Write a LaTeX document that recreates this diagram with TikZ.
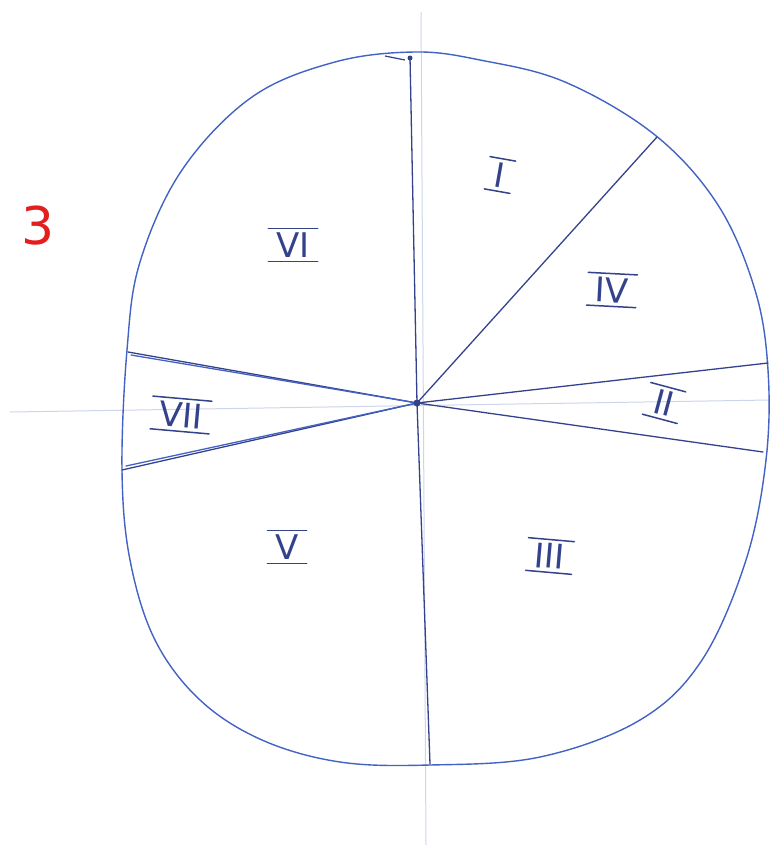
\documentclass[tikz,border=0pt]{standalone}
\usepackage{fontspec}
\setmainfont{DejaVu Sans}
\definecolor{penblue}{RGB}{66,98,196}
\definecolor{inkblue}{RGB}{52,66,140}
\definecolor{faint}{RGB}{205,213,235}
\definecolor{penred}{RGB}{226,30,30}
\tikzset{
  outline/.style={penblue, line width=1.4pt, line join=round},
  ray/.style={inkblue, line width=1.3pt, line cap=round},
  axis/.style={faint, line width=1pt},
  numeral/.style={text=inkblue, font=\fontsize{34}{36}\selectfont, inner xsep=8pt, inner ysep=4pt, outer sep=0pt},
  bar/.style={inkblue, line width=1.5pt, line cap=round}
}
\begin{document}
\begin{tikzpicture}[x=1pt,y=-1pt]
  \useasboundingbox (0,0) rectangle (771,855);

  % ---------- faint axes ----------
  \draw[axis] (10,412) -- (770,400);
  \draw[axis] (421,12) -- (426,845);

  % ---------- centre and boundary ----------
  \coordinate (c) at (417,403);
  \draw[outline] plot[smooth cycle, tension=0.6] coordinates {
    (415,52) (480,60) (565,82) (655,135) (718,205) (755,290) (768,370)
    (766,460) (746,560) (702,660) (640,720) (540,757) (430,765)
    (340,762) (262,740) (200,700) (155,640) (130,560) (122,470)
    (127,350) (140,262) (182,170) (252,97) (335,62)};
  \draw[inkblue, line width=1.2pt] (385,56) -- (405,60);
  \fill[inkblue] (410,58) circle (2.5pt);

  % ---------- rays ----------
  \coordinate (top) at (410,57);
  \coordinate (bot) at (430,764);
  \coordinate (ne) at (657,137);
  \coordinate (eu) at (768,363);
  \coordinate (el) at (763,452);
  \coordinate (wu) at (128,352);
  \coordinate (wl) at (122,470);
  \draw[ray] (c) -- (top);
  \draw[ray] (c) -- (bot);
  \draw[ray] (c) -- (ne);
  \draw[ray] (c) -- (eu);
  \draw[ray] (c) -- (el);
  \draw[ray] (c) -- (wu);
  \draw[ray, penblue] (c) -- (131,355);
  \draw[ray] (c) -- (wl);
  \draw[ray, penblue] (c) -- (126,466);
  \fill[inkblue] (c) circle (3.5pt);

  % ---------- numerals ----------
  \foreach \nm/\pos/\txt/\rot in {
      n1/{(500,175)}/I/-10, n6/{(293,245)}/VI/0, n4/{(612,290)}/IV/-3,
      n2/{(664,403)}/II/-15, n7/{(181,415)}/VII/-5, n5/{(287,547)}/V/0,
      n3/{(550,556)}/III/-5} {
    \node[numeral, rotate=\rot] (\nm) at \pos {\txt};
    \draw[bar] (\nm.north west) -- (\nm.north east);
    \draw[bar] (\nm.south west) -- (\nm.south east);
  }

  % ---------- figure number ----------
  \node[text=penred, font=\fontsize{52}{56}\selectfont] (fig) at (38,226) {3};
\end{tikzpicture}
\end{document}
